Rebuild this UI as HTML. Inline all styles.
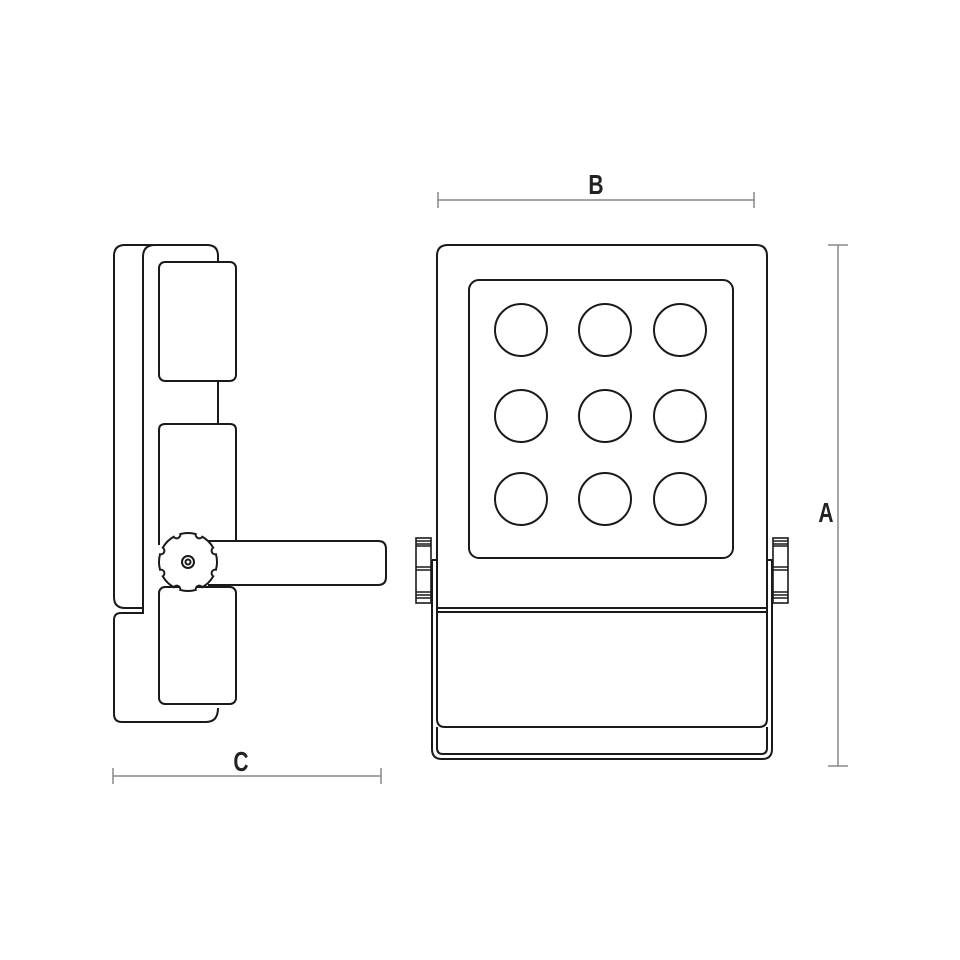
<!DOCTYPE html>
<html><head><meta charset="utf-8"><style>
html,body{margin:0;padding:0;background:#fff;}
svg{display:block;}
text{font-family:"Liberation Sans",sans-serif;font-weight:bold;fill:#222;}
</style></head><body>
<svg width="960" height="960" viewBox="0 0 960 960" xmlns="http://www.w3.org/2000/svg">
<g fill="none" stroke="#1a1a1a" stroke-width="2">
<!-- LEFT SIDE VIEW -->
<path d="M143,608 L125,608 Q114,608 114,597 L114,256 Q114,245 125,245 L207,245 Q218,245 218,256 L218,262"/>
<path d="M143,608 L143,257 Q143,245 155,245"/>
<path d="M218,708 Q218,722 206,722 L122,722 Q114,722 114,714 L114,620 Q114,613 121,613 L143,613 L143,608"/>
<rect x="159" y="262" width="77" height="119" rx="6"/>
<line x1="218" y1="381" x2="218" y2="424"/>
<path d="M159,545 L159,430 Q159,424 165,424 L230,424 Q236,424 236,430 L236,541"/>
<rect x="159" y="587" width="77" height="117" rx="6"/>
<path d="M208,541 L378,541 Q386,541 386,549 L386,577 Q386,585 378,585 L208,585"/>
<path id="gear" fill="#fff"/>
<circle cx="188" cy="562" r="6"/>
<circle cx="188" cy="562" r="2.5"/>

<!-- FRONT VIEW -->
<path d="M437,608 L437,256 Q437,245 448,245 L756,245 Q767,245 767,256 L767,608"/>
<rect x="469" y="280" width="264" height="278" rx="10"/>
<circle cx="521" cy="330" r="26"/><circle cx="605" cy="330" r="26"/><circle cx="680" cy="330" r="26"/>
<circle cx="521" cy="416" r="26"/><circle cx="605" cy="416" r="26"/><circle cx="680" cy="416" r="26"/>
<circle cx="521" cy="499" r="26"/><circle cx="605" cy="499" r="26"/><circle cx="680" cy="499" r="26"/>
<line x1="437" y1="608" x2="767" y2="608"/>
<line x1="437" y1="612" x2="767" y2="612"/>
<path d="M437,608 L437,719 Q437,727 445,727 L759,727 Q767,727 767,719 L767,608"/>
<path d="M432,560 L432,749 Q432,759 442,759 L762,759 Q772,759 772,749 L772,560 L767,560"/>
<path d="M432,560 L437,560"/>
<path d="M437,727 L437,748 Q437,754 443,754 L761,754 Q767,754 767,748 L767,727"/>
<!-- knobs -->
<g stroke-width="1.6">
<rect x="416" y="538" width="15" height="65" fill="#fff"/>
<path d="M416,541 H431 M416,544 H431 M416,546 H431 M416,567 H431 M416,570 H431 M416,592 H431 M416,595 H431 M416,598 H431"/>
<rect x="773" y="538" width="15" height="65" fill="#fff"/>
<path d="M773,541 H788 M773,544 H788 M773,546 H788 M773,567 H788 M773,570 H788 M773,592 H788 M773,595 H788 M773,598 H788"/>
</g>
</g>
<!-- dimension lines -->
<g stroke="#888" stroke-width="1.5" fill="none">
<line x1="438" y1="200" x2="754" y2="200"/>
<line x1="438" y1="192" x2="438" y2="208"/>
<line x1="754" y1="192" x2="754" y2="208"/>
<line x1="838" y1="245" x2="838" y2="766"/>
<line x1="828" y1="245" x2="848" y2="245"/>
<line x1="828" y1="766" x2="848" y2="766"/>
<line x1="113" y1="776" x2="381" y2="776"/>
<line x1="113" y1="768" x2="113" y2="784"/>
<line x1="381" y1="768" x2="381" y2="784"/>
</g>
<text x="596" y="194" font-size="28" text-anchor="middle" transform="translate(596,0) scale(0.75,1) translate(-596,0)">B</text>
<text x="826" y="522" font-size="28" text-anchor="middle" transform="translate(826,0) scale(0.75,1) translate(-826,0)">A</text>
<text x="241" y="771" font-size="28" text-anchor="middle" transform="translate(241,0) scale(0.75,1) translate(-241,0)">C</text>
</svg>
<script>
(function(){
var cx=188,cy=562,R=29,h=7*Math.PI/180,d="";
for(var k=0;k<8;k++){
 var t=(22.5+45*k)*Math.PI/180;
 var a1=t-h,a2=t+h;
 var x1=cx+R*Math.cos(a1),y1=cy+R*Math.sin(a1),x2=cx+R*Math.cos(a2),y2=cy+R*Math.sin(a2);
 if(k==0)d+="M"+x1.toFixed(2)+","+y1.toFixed(2);
 else d+=" A"+R+","+R+" 0 0 1 "+x1.toFixed(2)+","+y1.toFixed(2);
 d+=" A3.6,3.6 0 0 0 "+x2.toFixed(2)+","+y2.toFixed(2);
}
var t0=(22.5)*Math.PI/180-h;
d+=" A"+R+","+R+" 0 0 1 "+(cx+R*Math.cos(t0)).toFixed(2)+","+(cy+R*Math.sin(t0)).toFixed(2)+"Z";
document.getElementById("gear").setAttribute("d",d);
})();
</script>
</body></html>
